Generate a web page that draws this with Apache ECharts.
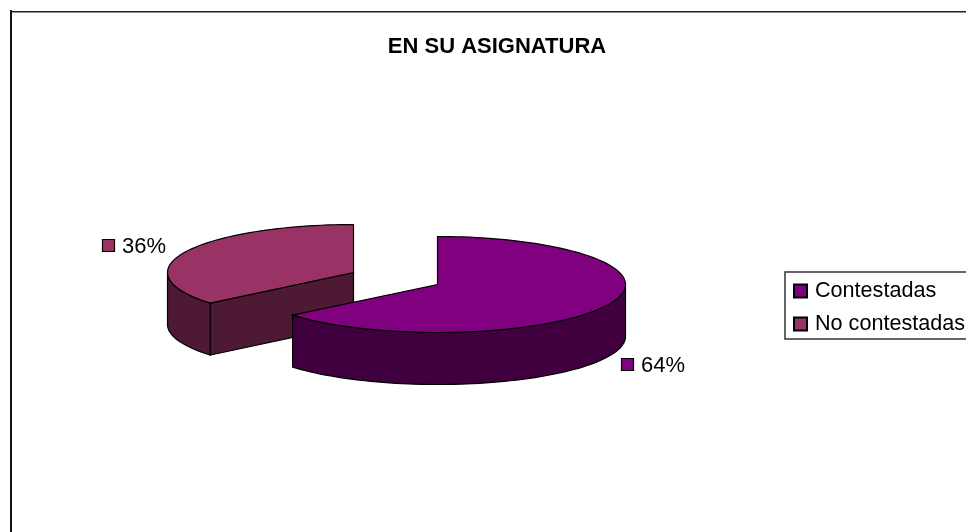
<!DOCTYPE html>
<html>
<head>
<meta charset="utf-8">
<style>
  html, body { margin: 0; padding: 0; background: #fff; }
  #chart { width: 966px; height: 532px; }
</style>
<script src="https://cdn.jsdelivr.net/npm/echarts@6/dist/echarts.min.js"></script>
</head>
<body>
<div id="chart"></div>
<script>
const chart = echarts.init(document.getElementById("chart"));

const categories = ["Contestadas", "No contestadas"];
const values = [64, 36];

const topColors = ["#800080", "#993366"];
const sideColors = ["#400040", "#4d1933"];

// each slice is pulled out of the pie, so each one has its own centre
const CENTERS = [[437.5, 284.5], [353.5, 272.5]];
const KEYS = [[621, 358], [102, 239]];
const RADII_X = [188, 186];
const RY = 48;
const DEPTH = 52;
const FONT = "Liberation Sans, Arial, sans-serif";
const total = values.reduce((a, b) => a + b, 0);

function point(index, deg, drop) {
	const a = deg * Math.PI / 180;
	const c = CENTERS[index];
	return [c[0] + RADII_X[index] * Math.sin(a), c[1] - RY * Math.cos(a) + drop];
}

function arc(index, from, to, drop) {
	const pts = [];
	const steps = Math.max(1, Math.ceil(Math.abs(to - from) / 2));
	for (let i = 0; i <= steps; i++) {
		pts.push(point(index, from + (to - from) * i / steps, drop));
	}
	return pts;
}

function shape(points, fill) {
	return {
		type: "polygon",
		shape: { points: points },
		style: { fill: fill, stroke: "#000", lineWidth: 1.2 }
	};
}

function renderSlice(index, start, api) {
	const value = api.value(0);
	const from = start;
	const to = start + value / total * 360;
	const c = CENTERS[index];
	const key = KEYS[index];
	const children = [];

	// flat cut face that looks towards the viewer
	if (from > 180 && from < 360) {
		const edge = point(index, from, 0);
		children.push(shape([c, edge, [edge[0], edge[1] + DEPTH], [c[0], c[1] + DEPTH]], sideColors[index]));
	}
	// round outer wall, only the front half shows
	const wallFrom = Math.max(from, 90);
	const wallTo = Math.min(to, 270);
	if (wallTo > wallFrom) {
		children.push(shape(
			arc(index, wallFrom, wallTo, 0).concat(arc(index, wallTo, wallFrom, DEPTH)),
			sideColors[index]
		));
	}
	children.push(shape([c].concat(arc(index, from, to, 0)), topColors[index]));

	// data label with its little colour key
	children.push({
		type: "rect",
		shape: { x: key[0] + 0.5, y: key[1] + 0.5, width: 12, height: 12 },
		style: { fill: topColors[index], stroke: "#000", lineWidth: 1.2 }
	});
	children.push({
		type: "text",
		style: {
			x: key[0] + 20,
			y: key[1] + 7.5,
			text: value + "%",
			font: "22px " + FONT,
			fill: "#000",
			verticalAlign: "middle"
		}
	});
	return { type: "group", children: children };
}

let startAngle = 0;
const series = categories.map((name, i) => {
	const start = startAngle;
	startAngle += values[i] / total * 360;
	return {
		name: name,
		type: "custom",
		coordinateSystem: "none",
		// first slice sits on top of the second one
		z: 10 - i,
		silent: true,
		itemStyle: { color: topColors[i], borderColor: "#000", borderWidth: 1.2 },
		data: [[values[i]]],
		renderItem: (params, api) => renderSlice(i, start, api)
	};
});

const option = {
	animation: false,
	backgroundColor: "#fff",
	title: {
		text: "EN SU ASIGNATURA",
		left: 492,
		top: 31,
		textAlign: "center",
		textStyle: { fontFamily: FONT, fontSize: 22, fontWeight: "bold", color: "#000" }
	},
	legend: {
		orient: "vertical",
		left: 785,
		top: 272,
		padding: [8, 8, 4, 8],
		itemGap: 11,
		itemWidth: 13,
		itemHeight: 13,
		icon: "rect",
		borderColor: "#333",
		borderWidth: 1.5,
		data: categories,
		textStyle: { fontFamily: FONT, fontSize: 21.6, color: "#000", lineHeight: 22, padding: [0, 0, 0, 3] }
	},
	graphic: [
		{ type: "rect", shape: { x: 10, y: 10, width: 2, height: 522 }, style: { fill: "#111" } },
		{ type: "rect", shape: { x: 10, y: 11, width: 956, height: 1.5 }, style: { fill: "#222" } }
	],
	series: series
};

chart.setOption(option);
window.onresize = chart.resize;
</script>
</body>
</html>
